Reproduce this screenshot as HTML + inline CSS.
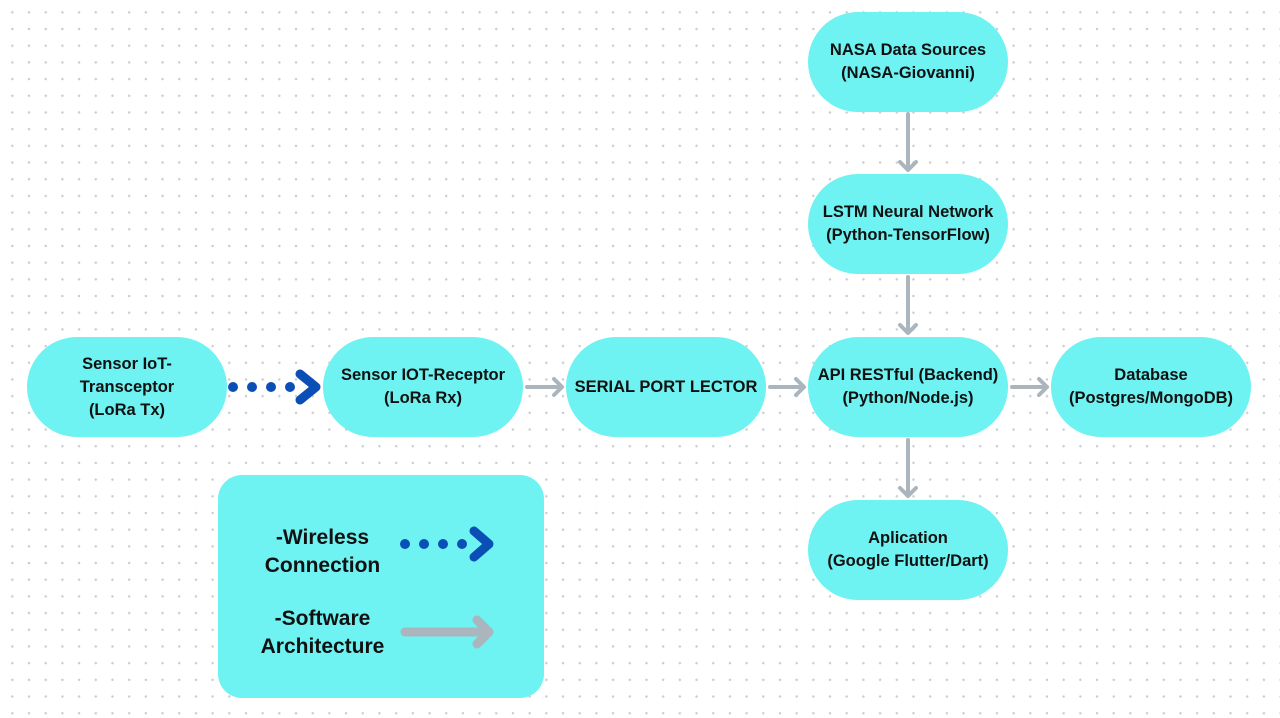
<!DOCTYPE html>
<html><head><meta charset="utf-8"><style>
body{margin:0;width:1280px;height:718px;overflow:hidden;background:#fff;
background-image:radial-gradient(circle,#c9cdd0 1.1px,transparent 1.4px);background-size:16.7px 16.7px;background-position:4px 4px;
font-family:"Liberation Sans",sans-serif;position:relative}
.n{position:absolute;width:200px;height:100px;border-radius:50px;background:#6ef2f2;display:flex;align-items:center;justify-content:center;text-align:center;font-weight:bold;font-size:16.5px;line-height:23px;color:#111}
.lg{position:absolute;left:218px;top:475px;width:326px;height:223px;border-radius:24px;background:#6ef2f2}
.lt{position:absolute;text-align:center;font-weight:bold;font-size:21px;line-height:28px;color:#111}
svg{position:absolute;left:0;top:0}
</style></head><body>
<div class="n" style="left:27px;top:337px">Sensor IoT-<br>Transceptor<br>(LoRa Tx)</div>
<div class="n" style="left:323px;top:337px">Sensor IOT-Receptor<br>(LoRa Rx)</div>
<div class="n" style="left:566px;top:337px">SERIAL PORT LECTOR</div>
<div class="n" style="left:808px;top:337px">API RESTful (Backend)<br>(Python/Node.js)</div>
<div class="n" style="left:1051px;top:337px">Database<br>(Postgres/MongoDB)</div>
<div class="n" style="left:808px;top:12px">NASA Data Sources<br>(NASA-Giovanni)</div>
<div class="n" style="left:808px;top:174px">LSTM Neural Network<br>(Python-TensorFlow)</div>
<div class="n" style="left:808px;top:500px">Aplication<br>(Google Flutter/Dart)</div>
<div class="lg"></div>
<div class="lt" style="left:240px;top:524px;width:165px">-Wireless<br>Connection</div>
<div class="lt" style="left:240px;top:605px;width:165px">-Software<br>Architecture</div>
<svg width="1280" height="718">
<g fill="#0a4fb5"><circle cx="233" cy="387" r="5"/><circle cx="252" cy="387" r="5"/><circle cx="271" cy="387" r="5"/><circle cx="290" cy="387" r="5"/>
<circle cx="405" cy="544" r="5"/><circle cx="424" cy="544" r="5"/><circle cx="443" cy="544" r="5"/><circle cx="462" cy="544" r="5"/></g>
<g fill="none" stroke="#0a4fb5" stroke-width="9" stroke-linecap="round" stroke-linejoin="round">
<path d="M300 374 L316 387 L300 400"/><path d="M474 531 L489 544 L474 557"/></g>
<g fill="none" stroke="#aab5bd" stroke-width="4" stroke-linecap="round" stroke-linejoin="round">
<path d="M527 387H562M554 379L562 387L554 395"/>
<path d="M770 387H804M796 379L804 387L796 395"/>
<path d="M1012 387H1047M1039 379L1047 387L1039 395"/>
<path d="M908 114V170M900 162L908 170L916 162"/>
<path d="M908 277V333M900 325L908 333L916 325"/>
<path d="M908 440V496M900 488L908 496L916 488"/>
</g>
<g fill="none" stroke="#aab5bd" stroke-width="9" stroke-linecap="round" stroke-linejoin="round">
<path d="M405 632H489M477 620L489 632L477 644"/></g>
</svg>
</body></html>
